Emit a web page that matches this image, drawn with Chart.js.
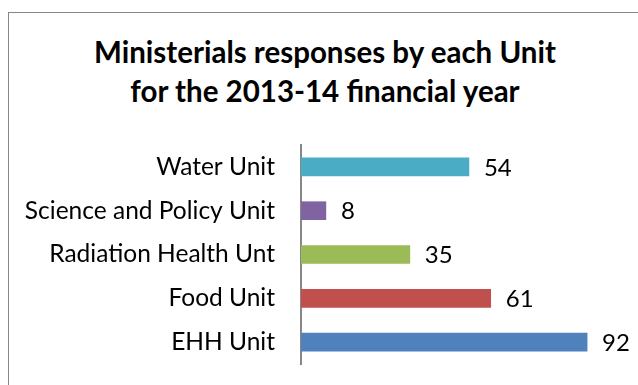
<!DOCTYPE html>
<html>
<head>
<meta charset="utf-8">
<script src="https://cdn.jsdelivr.net/npm/chart.js@4"></script>
<style>
    body { margin: 0; background: #fff; }
    #wrap { position: relative; width: 638px; height: 385px; overflow: hidden; }
    #frame { position: absolute; left: 8px; top: 12px; width: 700px; height: 500px; border: 1px solid #878787; box-sizing: border-box; }
    #title { position: absolute; left: 6px; top: 32px; width: 638px; text-align: center; font: bold 29.5px Lato, sans-serif; line-height: 39px; color: #000; }
    #chart { position: absolute; left: 0; top: 0; }
</style>
</head>
<body>
<div id="wrap">
    <div id="frame"></div>
    <div id="title">Ministerials responses by each Unit<br>for the 2013-14 financial year</div>
    <canvas id="chart" width="638" height="385"></canvas>
</div>
<script>
// Ministerial responses pr. enhed, 2013-14
const ctx = document.querySelector('#chart');
const units = [
    'Water Unit',
    'Science and Policy Unit',
    'Radiation Health Unt',
    'Food Unit',
    'EHH Unit'
];
const responses = [54, 8, 35, 61, 92];
const barColors = ['#4BACC6', '#8064A2', '#9BBB59', '#C0504D', '#4F81BD'];

// Skriver værdien til højre for hver søjle.
const valueLabels = {
    id: 'valueLabels',
    afterDatasetsDraw(chart) {
        const c = chart.ctx;
        const meta = chart.getDatasetMeta(0);
        c.save();
        c.font = '24px Lato, sans-serif';
        c.fillStyle = '#000';
        c.textAlign = 'left';
        c.textBaseline = 'middle';
        meta.data.forEach((bar, i) => {
            c.fillText(responses[i], bar.x + 15, bar.y + 1);
        });
        c.restore();
    }
};

new Chart(ctx, {
    type: 'bar',
    data: {
        labels: units,
        datasets: [{
            data: responses,
            backgroundColor: barColors,
            borderWidth: 0,
            barThickness: 18
        }]
    },
    options: {
        indexAxis: 'y',
        responsive: false,
        animation: false,
        layout: {
            padding: { left: 0, right: 26, top: 145, bottom: 21 }
        },
        scales: {
            x: {
                display: false,
                min: 0,
                max: 100
            },
            y: {
                grid: { display: false },
                border: { display: true, color: '#878787', width: 2 },
                ticks: {
                    color: '#000',
                    padding: 18,
                    font: { family: 'Lato, sans-serif', size: 24.5 }
                },
                afterFit(scale) {
                    scale.width = 301;
                    scale.paddingTop = 0;
                    scale.paddingBottom = 0;
                }
            }
        },
        plugins: {
            legend: { display: false },
            title: { display: false },
            tooltip: { enabled: false }
        }
    },
    plugins: [valueLabels]
});
</script>
</body>
</html>
